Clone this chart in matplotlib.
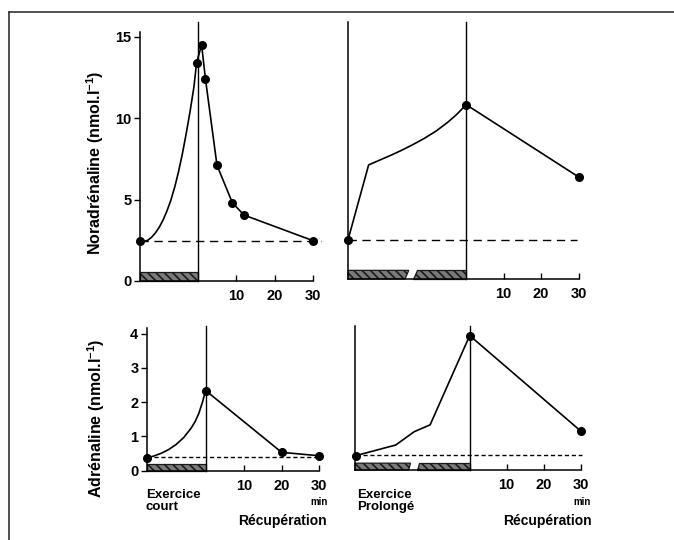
import matplotlib
matplotlib.use('Agg')
import matplotlib.pyplot as plt
from matplotlib.lines import Line2D
from matplotlib.patches import Polygon

plt.rcParams['font.family'] = ['Liberation Sans', 'DejaVu Sans']
plt.rcParams['font.weight'] = 'bold'
plt.rcParams['mathtext.fontset'] = 'custom'
plt.rcParams['mathtext.rm'] = 'Liberation Sans:bold'
plt.rcParams['mathtext.bf'] = 'Liberation Sans:bold'
plt.rcParams['hatch.linewidth'] = 1.2

W, H = 674, 540

# temps en min (exercice < 0, récupération >= 0), concentrations en nmol/l
# Noradrénaline - exercice court
na_court_ex_t = [-15, -14, -13, -12, -11, -10, -9, -8, -7, -6, -5, -4, -3, -2, -1, -0.3]
na_court_ex_v = [2.45, 2.42, 2.5, 2.68, 2.95, 3.3, 3.75, 4.3, 4.95, 5.75, 6.7, 7.8,
                 9.05, 10.4, 11.9, 13.4]
na_court_rec_t = [-0.3, 1, 2, 5, 9, 12, 30]
na_court_rec_v = [13.4, 14.5, 12.4, 7.1, 4.8, 4.05, 2.47]
na_court_base = 2.45

# Noradrénaline - exercice prolongé
na_long_ex_t = [-31.5, -26, -23, -20, -17, -14, -11, -8, -5, -2.5, 0]
na_long_ex_v = [2.4, 7.0, 7.3, 7.6, 7.92, 8.27, 8.65, 9.08, 9.6, 10.1, 10.7]
na_long_rec_t = [0, 30]
na_long_rec_v = [10.7, 6.26]
na_long_base = 2.4

# Adrénaline - exercice court
a_court_ex_t = [-15.6, -14, -12, -10, -8, -6, -4, -3, -2, -1, -0.5, 0]
a_court_ex_v = [0.37, 0.42, 0.5, 0.61, 0.76, 0.96, 1.24, 1.42, 1.66, 2.0, 2.2, 2.32]
a_court_rec_t = [0, 20, 30]
a_court_rec_v = [2.32, 0.53, 0.43]
a_court_base = 0.4

# Adrénaline - exercice prolongé
a_long_ex_t = [-30.8, -20, -15, -10.7, 0]
a_long_ex_v = [0.42, 0.73, 1.12, 1.32, 3.93]
a_long_rec_t = [0, 30]
a_long_rec_v = [3.93, 1.14]
a_long_base = 0.44

rec_ticks = [10, 20, 30]


def rect(left, right, bottom, top):
    # position d'un axe en pixels -> fraction de figure
    return [left / W, 1 - bottom / H, (right - left) / W, (bottom - top) / H]


def bar_piece(ax, pts):
    p = Polygon(pts, closed=True, facecolor='#7a7a7a', edgecolor='#1a1a1a',
                hatch='\\\\\\\\', linewidth=0.9, clip_on=False, zorder=2)
    ax.add_patch(p)


def panel(ax, ex_t, ex_v, rec_t, rec_v, base, xlim, ylim, bar_h,
          yticks=None, gap=None, dash=(6, 4), dash_end=31, ytop=None):
    ax.set_xlim(*xlim)
    ax.set_ylim(*ylim)
    for s in ['top', 'right']:
        ax.spines[s].set_visible(False)
    ax.spines['left'].set_linewidth(1.1)
    ax.spines['bottom'].set_linewidth(1.1)
    ax.spines['left'].set_bounds(0, ytop if ytop else ylim[1])
    ax.spines['bottom'].set_bounds(xlim[0], 30)

    # barre d'exercice hachurée (coupée pour l'exercice prolongé)
    x0 = xlim[0]
    if gap is None:
        bar_piece(ax, [(x0, 0), (0, 0), (0, bar_h), (x0, bar_h)])
    else:
        g1, g2, sl = gap
        bar_piece(ax, [(x0, 0), (g1, 0), (g1 + sl, bar_h), (x0, bar_h)])
        bar_piece(ax, [(g2, 0), (0, 0), (0, bar_h), (g2 + sl, bar_h)])

    # fin de l'exercice
    ax.plot([0, 0], [0, ylim[1]], color='black', lw=1.0, zorder=3, clip_on=False)
    # valeur de repos
    ax.plot([ex_t[0], dash_end], [base, base], color='black',
            lw=1.0, dashes=dash, zorder=3)

    ax.plot(ex_t, ex_v, color='black', lw=1.2, zorder=4, clip_on=False)
    ax.plot(rec_t, rec_v, color='black', lw=1.2, marker='o', ms=5.5,
            zorder=5, clip_on=False)
    ax.plot([ex_t[0]], [ex_v[0]], color='black', marker='o', ms=5.5,
            zorder=5, clip_on=False)

    ax.set_xticks(rec_ticks)
    ax.set_xticklabels([str(t) for t in rec_ticks], fontsize=10.5, fontweight='bold')
    ax.tick_params(axis='x', direction='in', length=4, width=1.0, pad=6)
    if yticks is not None:
        ax.set_yticks(yticks)
        ax.set_yticklabels([str(t) for t in yticks], fontsize=10.5, fontweight='bold')
        ax.tick_params(axis='y', direction='out', length=4, width=1.0, pad=2)
    else:
        ax.set_yticks([])
    ax.patch.set_alpha(0)


fig = plt.figure(figsize=(W / 100, H / 100), dpi=100)

ax1 = fig.add_axes(rect(140, 324.8, 281, 22))
panel(ax1, na_court_ex_t, na_court_ex_v, na_court_rec_t, na_court_rec_v,
      na_court_base, (-15, 33), (0, 15.9), 0.53, yticks=[0, 5, 10, 15],
      dash_end=32, ytop=15.3)

ax2 = fig.add_axes(rect(348, 589.9, 279, 22))
panel(ax2, na_long_ex_t, na_long_ex_v, na_long_rec_t, na_long_rec_v,
      na_long_base, (-31.5, 33), (0, 15.77), 0.53, gap=(-16.3, -14.2, 1.0),
      dash_end=29.5)

ax3 = fig.add_axes(rect(146.7, 330.7, 470.5, 326))
panel(ax3, a_court_ex_t, a_court_ex_v, a_court_rec_t, a_court_rec_v,
      a_court_base, (-15.8, 33), (0, 4.22), 0.2, yticks=[0, 1, 2, 3, 4],
      dash=(3, 2), dash_end=30.3, ytop=4.15)

ax4 = fig.add_axes(rect(355, 591.8, 470, 326))
panel(ax4, a_long_ex_t, a_long_ex_v, a_long_rec_t, a_long_rec_v,
      a_long_base, (-31, 33), (0, 4.21), 0.2, gap=(-16.5, -14.3, 0.5),
      dash=(3, 2), dash_end=30.3)


def fx(px):
    return px / W


def fy(py):
    return 1 - py / H


fig.text(fx(95), fy(163), r'Noradrénaline (nmol.l$^{-1}$)', rotation=90,
         ha='center', va='center', fontsize=11.5, fontweight='bold')
fig.text(fx(96), fy(418), r'Adrénaline (nmol.l$^{-1}$)', rotation=90,
         ha='center', va='center', fontsize=11.5, fontweight='bold')

fig.text(fx(146), fy(489), 'Exercice\ncourt', ha='left', va='top',
         fontsize=9.5, fontweight='bold', linespacing=1.05)
fig.text(fx(357), fy(489), 'Exercice\nProlongé', ha='left', va='top',
         fontsize=9.5, fontweight='bold', linespacing=1.05)
fig.text(fx(238), fy(521), 'Récupération', ha='left', va='center',
         fontsize=10, fontweight='bold')
fig.text(fx(503), fy(521), 'Récupération', ha='left', va='center',
         fontsize=10, fontweight='bold')
fig.text(fx(319.5), fy(502), 'min', ha='center', va='center', fontsize=7,
         fontweight='bold')
fig.text(fx(582), fy(502), 'min', ha='center', va='center', fontsize=7,
         fontweight='bold')

# cadre
fig.add_artist(Line2D([fx(8.5), fx(8.5)], [fy(12), 0], color='#333333', lw=1.2))
fig.add_artist(Line2D([fx(8.5), 1], [fy(12), fy(12)], color='#333333', lw=1.2))

fig.savefig('out.png', dpi=100, facecolor='white')
